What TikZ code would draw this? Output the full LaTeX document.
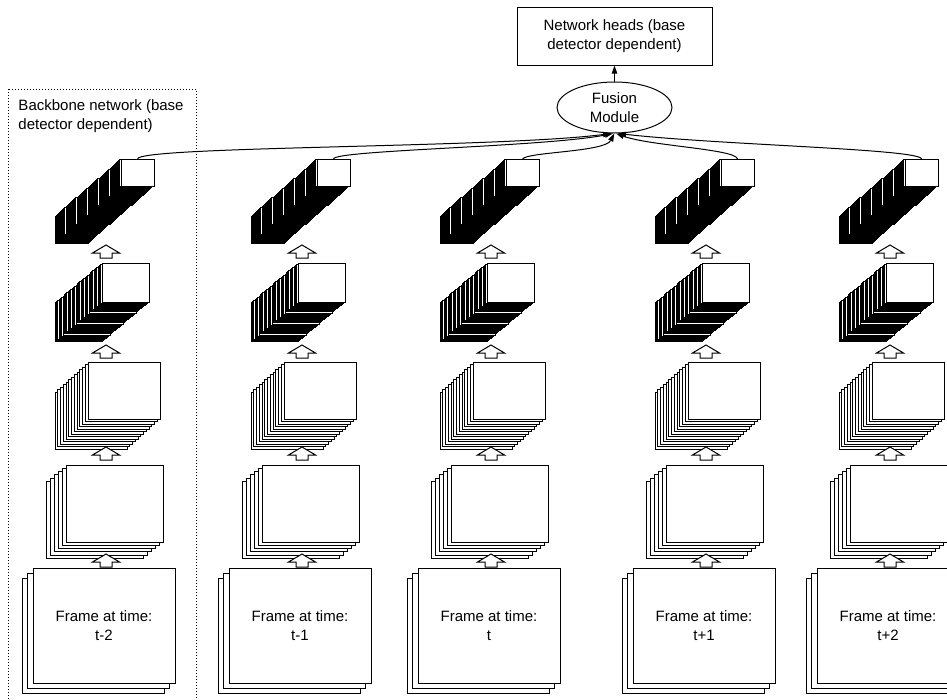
\documentclass[tikz,border=0pt]{standalone}
\usepackage{fontspec}
\setmainfont{Liberation Sans}
\usetikzlibrary{arrows.meta,shapes.geometric}
\begin{document}
\begin{tikzpicture}[x=0.75pt,y=-0.75pt,line width=0.75pt,
  txt/.style={font=\fontsize{11.25pt}{14.25pt}\selectfont,align=center},
  box/.style={draw,fill=white,inner sep=0pt,outer sep=0pt},
  sheet/.style={draw,fill=white},
  blockarrow/.style={draw,fill=white,line join=miter},
  conn/.style={-{Triangle[length=6pt,width=4pt]}},
  dotbox/.style={dash pattern=on 0.75pt off 1.5pt}]
\useasboundingbox (0,0) rectangle (947,700);
% backbone region
\draw[dotbox] (8,89) rectangle (196,706);
\node[txt,align=left,anchor=north west,inner sep=0pt] (bblabel) at (18,99) {Backbone network (base\\detector dependent)};
% columns
\foreach \xo/\n/\lab in {33/1/t-2,229/2/t-1,418/3/t,633/4/t+1,817/5/t+2}{
  % deepest feature map
  \foreach \i in {60,...,1} \draw[sheet] ({\xo+88-1.1*\i},{159+0.95*\i}) rectangle ++(33,27);
  \node[box,anchor=north west,minimum width=33*0.75pt,minimum height=27*0.75pt] (top\n) at (\xo+88,159) {};
  % fourth
  \foreach \i in {36,...,1} \draw[sheet] ({\xo+69-1.3*\i},{263+1.1*\i}) rectangle ++(47,39);
  \node[box,anchor=north west,minimum width=47*0.75pt,minimum height=39*0.75pt] (fmc\n) at (\xo+69,263) {};
  % third
  \foreach \i in {12,...,1} \draw[sheet] ({\xo+55-2.75*\i},{362+2.5*\i}) rectangle ++(72,57);
  \node[box,anchor=north west,minimum width=72*0.75pt,minimum height=57*0.75pt] (fmb\n) at (\xo+55,362) {};
  % second
  \foreach \i in {5,...,1} \draw[sheet] ({\xo+33-4*\i},{465+3.3*\i}) rectangle ++(97,77);
  \node[box,anchor=north west,minimum width=97*0.75pt,minimum height=77*0.75pt] (fma\n) at (\xo+33,465) {};
  % frames
  \foreach \i in {2,1} \draw[sheet] ({\xo-5.5*\i},{568+5*\i}) rectangle ++(142,115);
  \node[box,txt,anchor=north west,minimum width=142*0.75pt,minimum height=115*0.75pt] (frame\n) at (\xo,568) {Frame at time:\\\lab};
  % block arrows
  \foreach \ay in {245,345,447,554}
    \draw[blockarrow] (\xo+73,\ay) -- ++(13.5,8) -- ++(-7.5,0) -- ++(0,5) -- ++(-12,0) -- ++(0,-5) -- ++(-7.5,0) -- cycle;
}
% fusion and heads
\node[draw,ellipse,txt,minimum width=115*0.75pt,minimum height=51*0.75pt,inner sep=0pt] (fusion) at (614.5,107.5) {Fusion\\Module};
\node[draw,txt,minimum width=195*0.75pt,minimum height=58*0.75pt,inner sep=0pt] (heads) at (614.5,36) {Network heads (base\\detector dependent)};
\draw[conn] (fusion.north) -- (heads.south);
% connectors
\draw[conn] (top1.north) .. controls (137.5,146) and (500,148) .. ([xshift=-2.6pt]fusion.south);
\draw[conn] (top2.north) .. controls (333.5,150) and (545,147) .. ([xshift=-1.2pt]fusion.south);
\draw[conn] (top3.north) .. controls (527,152) and (605,152) .. ([xshift=-0.2pt]fusion.south);
\draw[conn] (top4.north) .. controls (736,149) and (650,146) .. ([xshift=1.2pt]fusion.south);
\draw[conn] (top5.north) .. controls (921,149) and (720,145) .. ([xshift=2.6pt]fusion.south);
\end{tikzpicture}
\end{document}
